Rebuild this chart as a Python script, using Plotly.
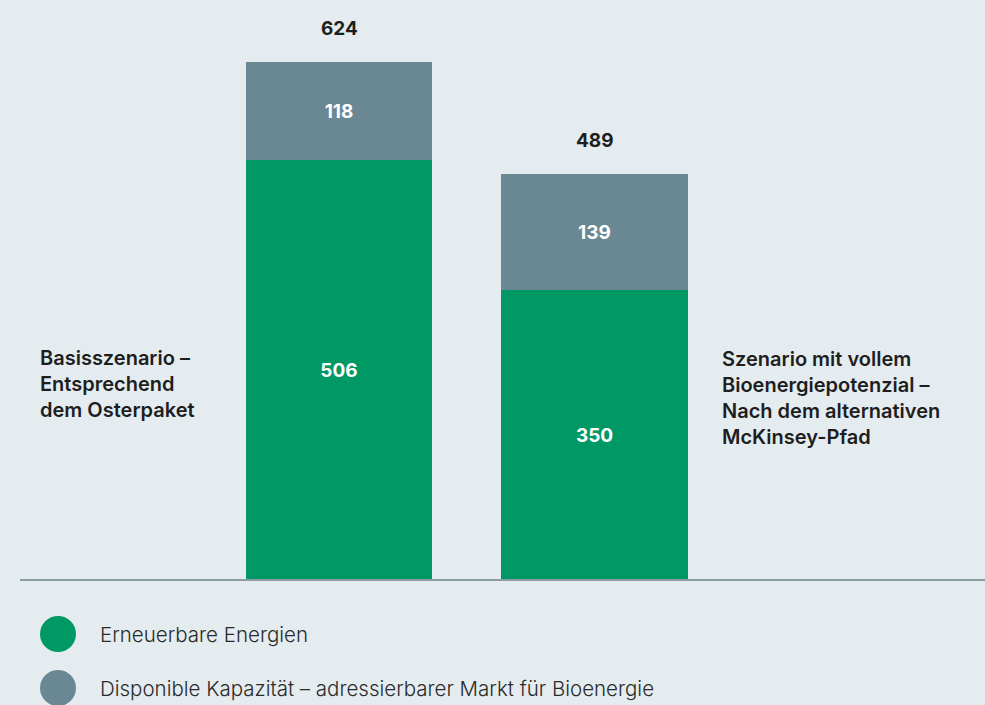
import plotly.graph_objects as go

categories = ["Basisszenario", "Szenario mit vollem Bioenergiepotenzial"]
erneuerbare = [506, 350]
disponibel = [118, 139]
totals = [624, 489]
cat_labels = [
    "Basisszenario –<br>Entsprechend<br>dem Osterpaket",
    "Szenario mit vollem<br>Bioenergiepotenzial –<br>Nach dem alternativen<br>McKinsey-Pfad",
]
legend_names = ["Erneuerbare Energien", "Disponible Kapazität – adressierbarer Markt für Bioenergie"]

GREEN = "#009966"
GREY = "#6A8893"
BG = "#E4ECEF"
FONT = "Inter"

W, H = 985, 705
PLOT_H = 580

fig = go.Figure()
fig.add_bar(x=categories, y=erneuerbare, name=legend_names[0], marker_color=GREEN,
            marker_line_width=0, width=0.73,
            text=[str(v) for v in erneuerbare], textposition="inside", insidetextanchor="middle",
            textfont=dict(color="white", size=19, family=FONT, weight=700), showlegend=False)
fig.add_bar(x=categories, y=disponibel, name=legend_names[1], marker_color=GREY,
            marker_line_width=0, width=0.73,
            text=[str(v) for v in disponibel], textposition="inside", insidetextanchor="middle",
            textfont=dict(color="white", size=19, family=FONT, weight=700), showlegend=False)

for c, t in zip(categories, totals):
    fig.add_annotation(x=c, y=t, text=str(t), showarrow=False, yanchor="bottom", yshift=20,
                       font=dict(size=19, color="#1E1E1E", family=FONT, weight=700))

# category labels
fig.add_annotation(xref="paper", yref="paper", x=38 / W, y=1 - 384 / PLOT_H, text=cat_labels[0],
                   showarrow=False, xanchor="left", yanchor="middle", align="left",
                   font=dict(size=20, color="#1E1E1E", family=FONT, weight=600))
fig.add_annotation(xref="paper", yref="paper", x=720 / W, y=1 - 398 / PLOT_H, text=cat_labels[1],
                   showarrow=False, xanchor="left", yanchor="middle", align="left",
                   font=dict(size=20, color="#1E1E1E", family=FONT, weight=600))

# baseline
fig.add_shape(type="line", xref="paper", yref="paper", x0=20 / W, x1=1, y0=0, y1=0,
              line=dict(color="#8C9CA3", width=2))

# legend (custom)
for i, (name, col) in enumerate(zip(legend_names, [GREEN, GREY])):
    cy = 634 + 54 * i
    yc = 1 - cy / PLOT_H
    r = 18 / PLOT_H
    fig.add_shape(type="circle", xref="paper", yref="paper",
                  x0=(58 - 18) / W, x1=(58 + 18) / W, y0=yc - r, y1=yc + r,
                  fillcolor=col, line_width=0)
    fig.add_annotation(xref="paper", yref="paper", x=98 / W, y=yc, text=name, showarrow=False,
                       xanchor="left", yanchor="middle",
                       font=dict(size=20.5, color="#2A2A2A", family=FONT, weight=300))

c0 = 339
step = 255.5
fig.update_layout(
    width=W, height=H, barmode="stack", bargap=0,
    paper_bgcolor=BG, plot_bgcolor=BG,
    margin=dict(l=0, r=0, t=0, b=H - PLOT_H),
    xaxis=dict(range=[-c0 / step, (W - c0) / step], visible=False, fixedrange=True),
    yaxis=dict(range=[0, PLOT_H / 0.83], visible=False, fixedrange=True),
    uniformtext=dict(mode=False),
)

fig.write_html("out.html")
